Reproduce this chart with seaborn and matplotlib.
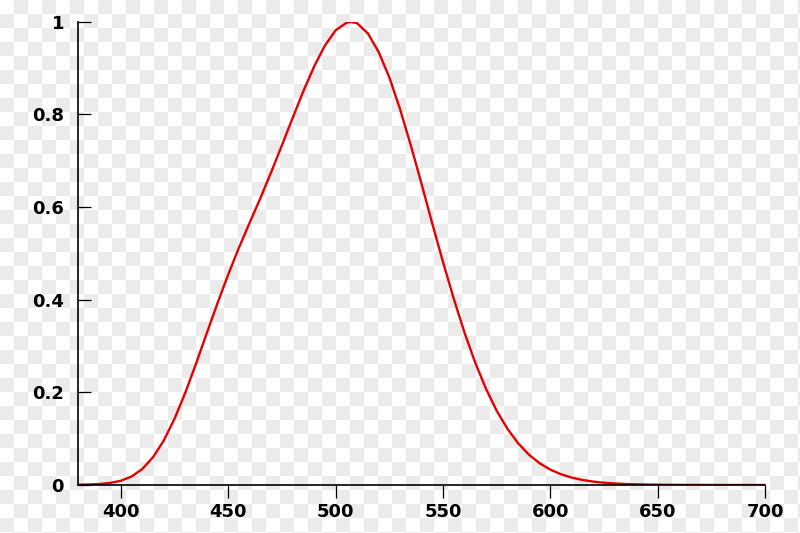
import numpy as np
import pandas as pd
import matplotlib
matplotlib.use('Agg')
import matplotlib.pyplot as plt
import seaborn as sns

# scotopic luminosity function (5 nm steps, plus the 507 nm peak)
wavelength = [380, 385, 390, 395, 400, 405, 410, 415, 420, 425, 430, 435, 440, 445, 450,
              455, 460, 465, 470, 475, 480, 485, 490, 495, 500, 505, 507, 510, 515, 520,
              525, 530, 535, 540, 545, 550, 555, 560, 565, 570, 575, 580, 585, 590, 595,
              600, 605, 610, 615, 620, 625, 630, 635, 640, 645, 650, 655, 660, 665, 670,
              675, 680, 685, 690, 695, 700]
luminosity = [0.000589, 0.001108, 0.002209, 0.004530, 0.009290, 0.01852, 0.03484, 0.06040,
              0.09660, 0.1436, 0.1998, 0.2625, 0.3281, 0.3931, 0.4550, 0.5130, 0.5670,
              0.6200, 0.6760, 0.7340, 0.7930, 0.8510, 0.9040, 0.9490, 0.9820, 0.9980,
              1.0000, 0.9970, 0.9750, 0.9350, 0.8800, 0.8110, 0.7330, 0.6500, 0.5640,
              0.4810, 0.4020, 0.3288, 0.2639, 0.2076, 0.1602, 0.1212, 0.0899, 0.0655,
              0.0469, 0.03315, 0.02312, 0.01593, 0.01088, 0.00737, 0.00497, 0.003335,
              0.002235, 0.001497, 0.001005, 0.000677, 0.000459, 0.000313, 0.000215,
              0.000148, 0.000103, 0.0000715, 0.0000501, 0.0000353, 0.0000250, 0.0000178]
x_ticks = [400, 450, 500, 550, 600, 650, 700]
y_ticks = [0, 0.2, 0.4, 0.6, 0.8, 1]
y_labels = ['0', '0.2', '0.4', '0.6', '0.8', '1']

df = pd.DataFrame({'wavelength': wavelength, 'V': luminosity})

sns.set_style('white')
plt.rcParams['font.family'] = ['DejaVu Sans']

fig = plt.figure(figsize=(8, 5.33), dpi=100)

# checkerboard backdrop
tile = 14
h, w = 533, 800
yy, xx = np.mgrid[0:h, 0:w]
board = np.where(((yy // tile) + (xx // tile)) % 2 == 0, 1.0, 0.925)
fig.figimage(np.dstack([board, board, board]), xo=0, yo=0, origin='upper', zorder=-10)

ax = fig.add_axes([0.0975, 0.090, 0.859, 0.869])
ax.set_zorder(5)
ax.patch.set_alpha(0)

sns.lineplot(data=df, x='wavelength', y='V', color='#e60000', linewidth=1.7, ax=ax)

ax.set_xlim(380, 700)
ax.set_ylim(0, 1)
ax.set_xticks(x_ticks)
ax.set_yticks(y_ticks)
ax.set_yticklabels(y_labels)
ax.set_xlabel('')
ax.set_ylabel('')

for s in ['top', 'right']:
    ax.spines[s].set_visible(False)
for s in ['left', 'bottom']:
    ax.spines[s].set_color('black')
    ax.spines[s].set_linewidth(1.2)

ax.tick_params(axis='x', direction='out', length=9, width=0.9, color='black',
               labelcolor='black', labelsize=13, pad=4)
ax.tick_params(axis='y', direction='in', length=9, width=0.9, color='black',
               labelcolor='black', labelsize=13, pad=10)
ax.tick_params(bottom=True, left=True)
for lbl in ax.get_xticklabels() + ax.get_yticklabels():
    lbl.set_fontweight('bold')

fig.savefig('out.png', dpi=100)
